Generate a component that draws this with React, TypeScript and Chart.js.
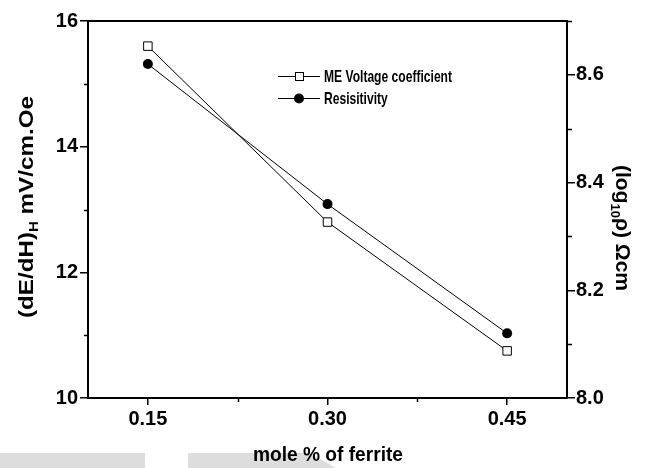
import React, { useEffect, useRef } from "react";
import { Chart, registerables } from "chart.js";

Chart.register(...registerables);

// ---- data ----
const molePercent = [0.15, 0.3, 0.45];
const meVoltageCoefficient = [15.6, 12.8, 10.75];
const resistivity = [8.62, 8.36, 8.12];

const xTickValues = [0.15, 0.3, 0.45];
const xMinorTicks = [0.225, 0.375];
const leftTickValues = [10, 12, 14, 16];
const leftMinorTicks = [11, 13, 15];
const rightTickValues = [8.0, 8.2, 8.4, 8.6];
const rightMinorTicks = [8.1, 8.3, 8.5, 8.7];

const seriesLabels = ["ME Voltage coefficient", "Resisitivity"];
const xTitle = "mole % of ferrite";

const FONT = "'Liberation Sans', Arial, sans-serif";

type Seg = { t: string; sub?: boolean };

function drawRichText(
  ctx: CanvasRenderingContext2D,
  segs: Seg[],
  cx: number,
  cy: number,
  size: number,
  rotation: number,
  targetLen: number
) {
  ctx.save();
  ctx.translate(cx, cy);
  ctx.rotate(rotation);
  const widths = segs.map((s) => {
    ctx.font = `bold ${s.sub ? Math.round(size * 0.6) : size}px ${FONT}`;
    return ctx.measureText(s.t).width;
  });
  const total = widths.reduce((a, b) => a + b, 0);
  const sx = targetLen / total;
  ctx.scale(sx, 1);
  let x = -total / 2;
  ctx.fillStyle = "#000";
  ctx.textBaseline = "middle";
  ctx.textAlign = "left";
  segs.forEach((s, i) => {
    ctx.font = `bold ${s.sub ? Math.round(size * 0.6) : size}px ${FONT}`;
    ctx.fillText(s.t, x, s.sub ? size * 0.35 : 0);
    x += widths[i];
  });
  ctx.restore();
}

const decorPlugin = {
  id: "decor",
  beforeDraw(chart: any) {
    const ctx = chart.ctx as CanvasRenderingContext2D;
    ctx.save();
    ctx.fillStyle = "#ffffff";
    ctx.fillRect(0, 0, chart.width, chart.height);
    ctx.fillStyle = "#dddddd";
    ctx.fillRect(0, 453, 145, 15);
    ctx.beginPath();
    ctx.moveTo(188, 453);
    ctx.lineTo(310, 453);
    ctx.lineTo(336, 468);
    ctx.lineTo(188, 468);
    ctx.closePath();
    ctx.fill();
    ctx.restore();
  },
  afterDraw(chart: any) {
    const ctx = chart.ctx as CanvasRenderingContext2D;
    const { left, right, top, bottom } = chart.chartArea;
    const xs = chart.scales.x;
    const yl = chart.scales.y;
    const yr = chart.scales.y1;
    ctx.save();
    ctx.strokeStyle = "#000";
    ctx.lineWidth = 2;
    // top frame line
    ctx.beginPath();
    ctx.moveTo(left, top);
    ctx.lineTo(right, top);
    ctx.stroke();
    // minor ticks
    ctx.lineWidth = 1.5;
    ctx.beginPath();
    xMinorTicks.forEach((v) => {
      const px = Math.round(xs.getPixelForValue(v)) + 0.5;
      ctx.moveTo(px, bottom);
      ctx.lineTo(px, bottom + 4);
    });
    leftMinorTicks.forEach((v) => {
      const py = Math.round(yl.getPixelForValue(v)) + 0.5;
      ctx.moveTo(left, py);
      ctx.lineTo(left - 4, py);
    });
    rightMinorTicks.forEach((v) => {
      const py = Math.round(yr.getPixelForValue(v)) + 0.5;
      ctx.moveTo(right, py);
      ctx.lineTo(right + 5, py);
    });
    ctx.stroke();

    // legend
    const rows = [
      { y: 76, label: seriesLabels[0], square: true },
      { y: 98, label: seriesLabels[1], square: false },
    ];
    ctx.font = `bold 17px ${FONT}`;
    const refW = ctx.measureText(seriesLabels[0]).width;
    const legScale = 128 / refW;
    rows.forEach((r) => {
      ctx.strokeStyle = "#000";
      ctx.lineWidth = 1;
      ctx.beginPath();
      ctx.moveTo(278, r.y + 0.5);
      ctx.lineTo(320, r.y + 0.5);
      ctx.stroke();
      if (r.square) {
        ctx.fillStyle = "#fff";
        ctx.fillRect(295, r.y - 4, 8, 8);
        ctx.strokeRect(295.5, r.y - 3.5, 8, 8);
      } else {
        ctx.fillStyle = "#000";
        ctx.beginPath();
        ctx.arc(299, r.y + 0.5, 5, 0, Math.PI * 2);
        ctx.fill();
      }
      ctx.fillStyle = "#000";
      ctx.font = `bold 17px ${FONT}`;
      ctx.save();
      ctx.translate(324, r.y + 1);
      ctx.scale(legScale, 1);
      ctx.textBaseline = "middle";
      ctx.textAlign = "left";
      ctx.fillText(r.label, 0, 0);
      ctx.restore();
    });

    // axis titles
    drawRichText(ctx, [{ t: xTitle }], 328, 455, 21, 0, 150);
    drawRichText(
      ctx,
      [{ t: "(dE/dH)" }, { t: "H", sub: true }, { t: " mV/cm.Oe" }],
      27,
      207,
      21,
      -Math.PI / 2,
      222
    );
    drawRichText(
      ctx,
      [{ t: "(log" }, { t: "10", sub: true }, { t: "ρ) Ωcm" }],
      622,
      228,
      21,
      Math.PI / 2,
      126
    );
    ctx.restore();
  },
};

const tickFont = { family: FONT, size: 20, weight: "bold" as const };

export default function App() {
  const ref = useRef<HTMLCanvasElement | null>(null);
  useEffect(() => {
    if (!ref.current) return;
    const chart = new Chart(ref.current, {
      type: "line",
      data: {
        datasets: [
          {
            label: seriesLabels[0],
            data: molePercent.map((x, i) => ({ x, y: meVoltageCoefficient[i] })),
            yAxisID: "y",
            borderColor: "#000",
            borderWidth: 1,
            backgroundColor: "#fff",
            pointStyle: "rect",
            pointRadius: 6,
            pointBorderWidth: 1,
            pointBorderColor: "#000",
            pointBackgroundColor: "#fff",
            tension: 0,
          },
          {
            label: seriesLabels[1],
            data: molePercent.map((x, i) => ({ x, y: resistivity[i] })),
            yAxisID: "y1",
            borderColor: "#000",
            borderWidth: 1,
            backgroundColor: "#000",
            pointStyle: "circle",
            pointRadius: 5,
            pointBorderWidth: 0,
            pointBackgroundColor: "#000",
            tension: 0,
          },
        ],
      },
      options: {
        animation: false,
        responsive: false,
        layout: { padding: { top: 21, left: 0, right: 0, bottom: 0 } },
        plugins: {
          legend: { display: false },
          tooltip: { enabled: false },
        },
        scales: {
          x: {
            type: "linear",
            position: "bottom",
            min: 0.1,
            max: 0.5,
            afterBuildTicks: (s: any) => {
              s.ticks = xTickValues.map((value) => ({ value }));
            },
            afterFit: (s: any) => {
              s.height = 70;
            },
            ticks: {
              font: tickFont,
              color: "#000",
              padding: 2,
              maxRotation: 0,
              callback: (v: any) => Number(v).toFixed(2),
            },
            grid: {
              display: true,
              drawOnChartArea: false,
              drawTicks: true,
              tickLength: 7,
              color: "#000",
              lineWidth: 1.5,
            },
            border: { display: true, color: "#000", width: 2 },
          },
          y: {
            type: "linear",
            position: "left",
            min: 10,
            max: 16,
            afterBuildTicks: (s: any) => {
              s.ticks = leftTickValues.map((value) => ({ value }));
            },
            afterFit: (s: any) => {
              s.width = 88;
            },
            ticks: {
              font: tickFont,
              color: "#000",
              padding: 2,
              callback: (v: any) => String(v),
            },
            grid: {
              display: true,
              drawOnChartArea: false,
              drawTicks: true,
              tickLength: 8,
              color: "#000",
              lineWidth: 1.5,
            },
            border: { display: true, color: "#000", width: 2 },
          },
          y1: {
            type: "linear",
            position: "right",
            min: 8.0,
            max: 8.7,
            afterBuildTicks: (s: any) => {
              s.ticks = rightTickValues.map((value) => ({ value }));
            },
            afterFit: (s: any) => {
              s.width = 84;
            },
            ticks: {
              font: tickFont,
              color: "#000",
              padding: 1,
              callback: (v: any) => Number(v).toFixed(1),
            },
            grid: {
              display: true,
              drawOnChartArea: false,
              drawTicks: true,
              tickLength: 8,
              color: "#000",
              lineWidth: 1.5,
            },
            border: { display: true, color: "#000", width: 2 },
          },
        },
      },
      plugins: [decorPlugin],
    });
    return () => chart.destroy();
  }, []);

  return (
    <div style={{ position: "absolute", left: 0, top: 0, width: 651, height: 468 }}>
      <canvas ref={ref} width={651} height={468} style={{ width: 651, height: 468 }} />
    </div>
  );
}
